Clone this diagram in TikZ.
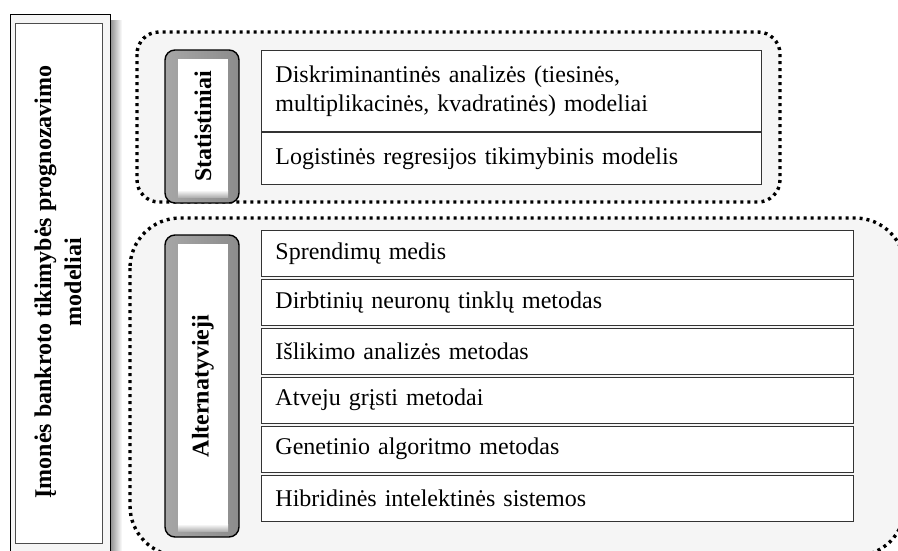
\documentclass[tikz,border=0pt]{standalone}
\usepackage{fontspec}
\setmainfont{Liberation Serif}
\usetikzlibrary{positioning,fit,backgrounds}

\begin{document}
\begin{tikzpicture}[
  x=1pt,y=-1pt,
  every node/.style={font=\fontsize{24}{29}\selectfont},
  mitem/.style={draw=black!80,fill=white,line width=0.9pt,
                inner xsep=14pt,minimum height=46pt,align=left},
  sitem/.style={mitem,text width=472pt},
  aitem/.style={mitem,text width=564pt},
  grpbox/.style={draw=black,line width=3.4pt,dash pattern=on 3pt off 4pt,
                 fill=gray!8},
  labbox/.style={draw=black,line width=1.4pt,rounded corners=10pt,
                 left color=black!35,middle color=white,right color=black!45},
  labtext/.style={font=\fontsize{24}{29}\selectfont\bfseries,rotate=90}
]
\useasboundingbox (0,0) rectangle (898,550);
\clip (0,0) rectangle (898,550);

% ---- Left title box ----
\fill[left color=black!45,right color=white] (110,20) rectangle (122,550);
\draw[fill=gray!8,line width=1pt] (10,14) rectangle (110,560);
\draw[fill=white,draw=black!70,line width=0.5pt] (15,23) rectangle (102,543);
\node[font=\fontsize{24}{30}\selectfont\bfseries,rotate=90,align=center]
  (title) at (58,282) {Įmonės bankroto tikimybės prognozavimo\\modeliai};

% ---- Group frames ----
\draw[grpbox,rounded corners=22pt] (137,32) rectangle (780,202);
\draw[grpbox,rounded corners=50pt] (130,218) rectangle (905,556);

% ---- Statistiniai ----
\draw[labbox] (165,50) rectangle (239,203);
\fill[white] (178,59) rectangle (228,190);
\fill[top color=white,bottom color=black!30] (178,190) rectangle (228,197);
\node[labtext] (stlab) at (203,126) {Statistiniai};

\node[sitem,anchor=north west,minimum height=81pt] (disk) at (261,50)
  {Diskriminantinės analizės (tiesinės,\\multiplikacinės, kvadratinės) modeliai};
\node[sitem,minimum height=52pt,below=0pt of disk] (logit)
  {Logistinės regresijos tikimybinis modelis};

% ---- Alternatyvieji ----
\draw[labbox] (165,235) rectangle (239,537);
\fill[white] (178,244) rectangle (228,524);
\fill[top color=white,bottom color=black!30] (178,524) rectangle (228,531);
\node[labtext] (altlab) at (203,386) {Alternatyvieji};

\node[aitem,anchor=north west] (tree) at (261,230) {Sprendimų medis};
\node[aitem,below=2pt of tree]  (ann)  {Dirbtinių neuronų tinklų metodas};
\node[aitem,below=2pt of ann]   (surv) {Išlikimo analizės metodas};
\node[aitem,below=2pt of surv]  (cbr)  {Atveju grįsti metodai};
\node[aitem,below=2pt of cbr]   (gen)  {Genetinio algoritmo metodas};
\node[aitem,below=2pt of gen]   (hyb)  {Hibridinės intelektinės sistemos};

\end{tikzpicture}
\end{document}
